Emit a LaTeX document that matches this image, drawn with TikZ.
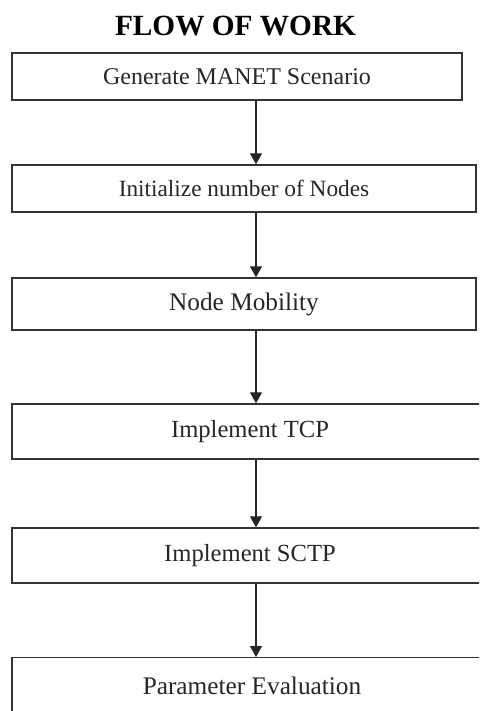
\documentclass[tikz,border=0pt]{standalone}
\usepackage{fontspec}
\setmainfont{Liberation Serif}
\usetikzlibrary{arrows.meta}
\tikzset{
  stepbox/.style={draw=black!80, line width=1.4pt, rectangle, inner sep=0pt,
    font=\fontsize{24}{28}\selectfont, text=black!85},
  flowarrow/.style={draw=black!85, line width=1.2pt,
    -{Triangle[length=11pt,width=12pt]}}
}
\begin{document}
\begin{tikzpicture}[x=1pt,y=-1pt]
  \useasboundingbox (0,0) rectangle (479,711);
  \clip (0,0) rectangle (479,711);
  % title
  \node[anchor=base, font=\bfseries\fontsize{29.3}{34}\selectfont] (title) at (235.5,36) {FLOW OF WORK};
  % process steps
  \node[stepbox, minimum width=450pt, minimum height=47pt] (b1) at (237,76.5) {Generate MANET Scenario};
  \node[stepbox, minimum width=464pt, minimum height=47pt, font=\fontsize{23.3}{28}\selectfont] (b2) at (244,188.5) {Initialize number of Nodes};
  \node[stepbox, minimum width=464pt, minimum height=52pt, font=\fontsize{25.3}{28}\selectfont] (b3) at (244,304) {Node Mobility};
  \node[stepbox, minimum width=476pt, minimum height=55pt, font=\fontsize{24.6}{28}\selectfont] (b4) at (250,431.5) {Implement TCP};
  \node[stepbox, minimum width=476pt, minimum height=55pt, font=\fontsize{24.6}{28}\selectfont] (b5) at (250,555.5) {Implement SCTP};
  \node[stepbox, minimum width=480pt, minimum height=56pt, anchor=north, font=\fontsize{25.3}{28}\selectfont] (b6) at (252,657) {Parameter Evaluation};
  % connectors
  \coordinate (ax) at (256,0);
  \draw[flowarrow] (ax |- b1.south) -- (ax |- b2.north);
  \draw[flowarrow] (ax |- b2.south) -- (ax |- b3.north);
  \draw[flowarrow] (ax |- b3.south) -- (ax |- b4.north);
  \draw[flowarrow] (ax |- b4.south) -- (ax |- b5.north);
  \draw[flowarrow] (ax |- b5.south) -- (ax |- b6.north);
\end{tikzpicture}
\end{document}
